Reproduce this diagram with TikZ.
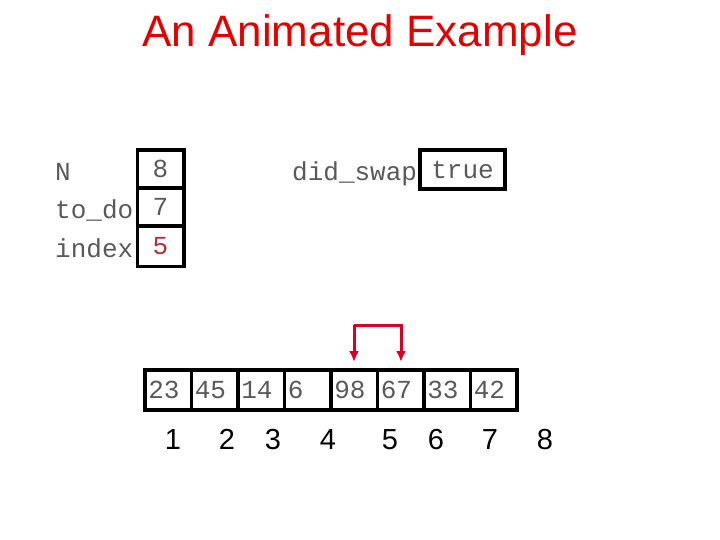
\documentclass[tikz,border=0pt]{standalone}
\usepackage{fontspec}
\usetikzlibrary{arrows.meta}
\setmainfont{Liberation Sans}
\newfontfamily\mono{Liberation Mono}
\begin{document}
\begin{tikzpicture}[x=1pt,y=-1pt,
  cell/.style={draw,line width=3.5pt,minimum width=46.5pt,minimum height=40pt,inner sep=0pt,font=\mono\fontsize{26}{26}\selectfont,text=black!65},
  lab/.style={font=\mono\fontsize{26}{26}\selectfont,text=black!65,anchor=west,inner sep=0pt},
  idx/.style={font=\fontsize{29}{29}\selectfont,inner sep=0pt,anchor=base},
  arr/.style={draw=red!85!blue,line width=3pt,-{Latex[length=11pt,width=10pt]}}]
\useasboundingbox (0,0) rectangle (720,540);
\node[text=red!90!black,font=\fontsize{44}{44}\selectfont] (title) at (360,35) {An Animated Example};
% variables
\node[lab] (lN) at (55,172) {N};
\node[lab] (lt) at (55,210) {to\_do};
\node[lab] (li) at (55,248) {index};
\node[cell,minimum height=38pt] (vN) at (160.5,169) {8};
\node[cell,minimum height=38pt] (vt) at (160.5,207) {7};
\node[cell,minimum height=40pt,text=red!60!black!80] (vi) at (160.5,246.5) {5};
\node[lab] (ld) at (292,174) {did\_swap};
\node[cell,minimum width=85pt,minimum height=39pt] (vd) at (462.5,169.5) {true};
% array
\foreach \v [count=\i] in {23,45,14,6,98,67,33,42}{
  \node[cell,text width=40pt,align=left,inner xsep=3pt] (c\i) at ({145+46.5*(\i-0.5)},390) {\v};
}
\foreach \n/\x in {1/173,2/227,3/273,4/328,5/390,6/436,7/490,8/545}{
  \node[idx] (i\n) at (\x,449) {\n};
}
\coordinate (a1) at (354,325);
\coordinate (a2) at (401,325);
\coordinate (t1) at (354,362);
\coordinate (t2) at (401,362);
\draw[arr] (a1) -- (a2) -- (t2);
\draw[arr] (a1) -- (t1);
\end{tikzpicture}
\end{document}
